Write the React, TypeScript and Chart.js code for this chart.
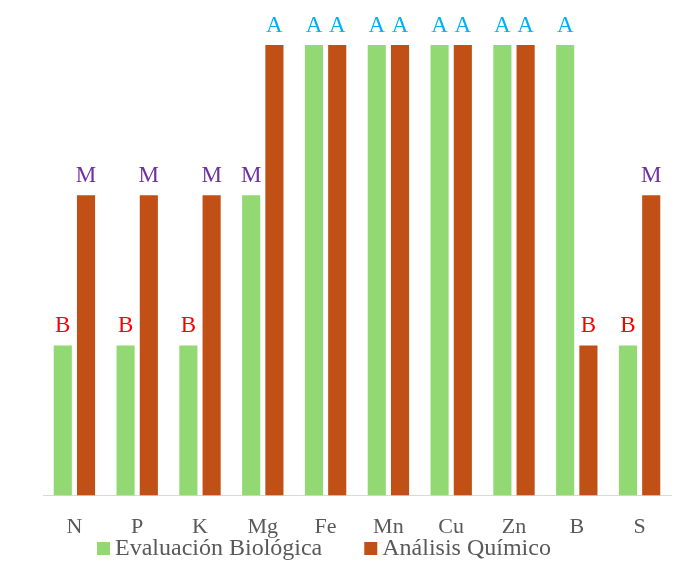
import React, { useEffect, useRef } from "react";
import { Chart, registerables } from "chart.js";

Chart.register(...registerables);

// Nutrient categories and rating levels (1 = B, 2 = M, 3 = A)
const categories = ["N", "P", "K", "Mg", "Fe", "Mn", "Cu", "Zn", "B", "S"];
const evaluacionBiologica = [1, 1, 1, 2, 3, 3, 3, 3, 3, 1];
const analisisQuimico = [2, 2, 2, 3, 3, 3, 3, 3, 1, 2];
const levelLabels: Record<number, string> = { 1: "B", 2: "M", 3: "A" };
const levelColors: Record<number, string> = { 1: "#FF0000", 2: "#7030A0", 3: "#00B0F0" };

const FONT = "'Liberation Serif', 'Times New Roman', serif";
const TEXT_GRAY = "#595959";

// Writes the rating letter above each bar
const barLetters = {
  id: "barLetters",
  afterDatasetsDraw(chart: any) {
    const ctx = chart.ctx;
    ctx.save();
    ctx.font = `23px ${FONT}`;
    ctx.textAlign = "center";
    ctx.textBaseline = "alphabetic";
    chart.data.datasets.forEach((ds: any, di: number) => {
      const meta = chart.getDatasetMeta(di);
      meta.data.forEach((bar: any, i: number) => {
        const v = ds.data[i];
        ctx.fillStyle = levelColors[v];
        ctx.fillText(levelLabels[v], bar.x, bar.y - 13);
      });
    });
    ctx.restore();
  },
};

// Legend row under the axis labels, laid out left to right
const bottomLegend = {
  id: "bottomLegend",
  afterDraw(chart: any) {
    const ctx = chart.ctx;
    ctx.save();
    ctx.font = `24px ${FONT}`;
    ctx.textBaseline = "alphabetic";
    ctx.textAlign = "left";
    const baseline = 555;
    const box = 13;
    let x = 97;
    chart.data.datasets.forEach((ds: any) => {
      ctx.fillStyle = ds.backgroundColor;
      ctx.fillRect(x, baseline - box, box, box);
      x += box + 5;
      ctx.fillStyle = TEXT_GRAY;
      ctx.fillText(ds.label, x, baseline);
      x += ctx.measureText(ds.label).width + 42;
    });
    ctx.restore();
  },
};

export default function App() {
  const ref = useRef<HTMLCanvasElement>(null);

  useEffect(() => {
    if (!ref.current) return;
    const chart = new Chart(ref.current, {
      type: "bar",
      data: {
        labels: categories,
        datasets: [
          {
            label: "Evaluación Biológica",
            data: evaluacionBiologica,
            backgroundColor: "#92D973",
            barPercentage: 0.78,
            categoryPercentage: 0.74,
          },
          {
            label: "Análisis Químico",
            data: analisisQuimico,
            backgroundColor: "#C05016",
            barPercentage: 0.78,
            categoryPercentage: 0.74,
          },
        ],
      },
      options: {
        animation: false,
        responsive: false,
        layout: { padding: { left: 43, right: 9, top: 45, bottom: 13 } },
        scales: {
          x: {
            grid: { display: false },
            border: { display: true, color: "#D9D9D9", width: 1 },
            ticks: { color: TEXT_GRAY, font: { family: FONT, size: 22 }, padding: 10 },
          },
          y: {
            display: false,
            min: 0,
            max: 3,
          },
        },
        plugins: {
          legend: { display: false },
          tooltip: { enabled: false },
        },
      },
      plugins: [barLetters, bottomLegend],
    });
    return () => chart.destroy();
  }, []);

  return (
    <div style={{ position: "fixed", left: 0, top: 0, width: 680, height: 563, background: "#fff" }}>
      <canvas ref={ref} width={680} height={563} />
    </div>
  );
}
